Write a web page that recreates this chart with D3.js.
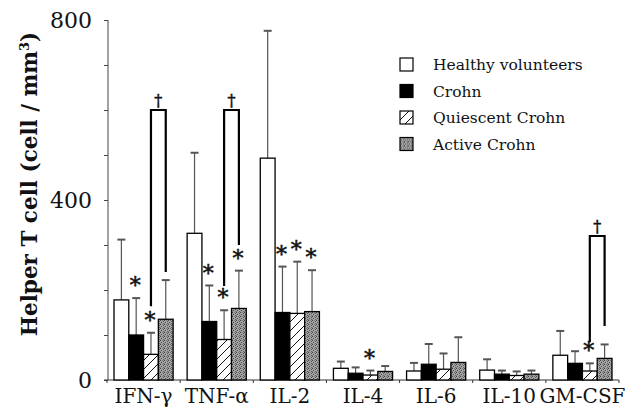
<!doctype html>
<html>
  <head>
    <meta charset="utf-8">
    <title>Helper T cell</title>
    <script src="https://cdnjs.cloudflare.com/ajax/libs/d3/7.8.5/d3.min.js"></script>
    <style>
      body { margin: 0; background: #fff; }
      text { font-family: "DejaVu Serif", serif; fill: #111; }
      .marks text { stroke: #111; stroke-width: 0.5px; }
    </style>
  </head>
  <body>
    <div id="chart"></div>
    <script>
      // data
      const categories = ["IFN-γ", "TNF-α", "IL-2", "IL-4", "IL-6", "IL-10", "GM-CSF"];
      const groups = ["Healthy volunteers", "Crohn", "Quiescent Crohn", "Active Crohn"];

      const healthy   = [178, 326, 493, 26, 20, 22, 55];
      const healthySD = [134, 179, 283, 15, 18, 24, 54];
      const crohn     = [100, 130, 150, 15, 35, 13, 37];
      const crohnSD   = [82, 80, 102, 13, 45, 8, 27];
      const quiescent   = [57, 90, 148, 11, 24, 10, 20];
      const quiescentSD = [48, 65, 115, 10, 35, 9, 17];
      const active   = [135, 159, 152, 19, 39, 13, 48];
      const activeSD = [87, 84, 92, 12, 56, 8, 31];

      const yTicks = [0, 100, 200, 300, 400, 500, 600, 700, 800];
      const yLabels = [0, 400, 800];

      // * = significant vs healthy volunteers
      const stars = [
        ["IFN-γ", "Crohn"], ["IFN-γ", "Quiescent Crohn"],
        ["TNF-α", "Crohn"], ["TNF-α", "Quiescent Crohn"], ["TNF-α", "Active Crohn"],
        ["IL-2", "Crohn"], ["IL-2", "Quiescent Crohn"], ["IL-2", "Active Crohn"],
        ["IL-4", "Quiescent Crohn"],
        ["GM-CSF", "Quiescent Crohn"]
      ];
      // † = quiescent vs active
      const bracketCats = ["IFN-γ", "TNF-α", "GM-CSF"];
      const bracketTop = [600, 600, 320];
      const bracketLeftEnd = [164, 209, 84];
      const bracketRightEnd = [240, 300, 120];

      const means = [healthy, crohn, quiescent, active];
      const sds = [healthySD, crohnSD, quiescentSD, activeSD];

      const rows = [];
      categories.forEach((c, i) => {
        groups.forEach((g, j) => {
          rows.push({cat: c, grp: g, v: means[j][i], sd: sds[j][i]});
        });
      });

      const width = 636, height = 410;
      const svg = d3.select('#chart').append('svg')
        .attr('width', width).attr('height', height);

      const defs = svg.append('defs');
      // hatched fill
      const hatch = defs.append('pattern').attr('id', 'hatch')
        .attr('patternUnits', 'userSpaceOnUse').attr('width', 9).attr('height', 9);
      hatch.append('rect').attr('width', 9).attr('height', 9).attr('fill', '#fff');
      hatch.append('path').attr('d', 'M-1,10 L10,-1 M-2,2 L2,-2 M7,11 L11,7')
        .attr('stroke', '#111').attr('stroke-width', 1);
      // stippled grey fill
      const dots = defs.append('pattern').attr('id', 'dots')
        .attr('patternUnits', 'userSpaceOnUse').attr('width', 4).attr('height', 4);
      dots.append('rect').attr('width', 4).attr('height', 4).attr('fill', '#a4a4a4');
      [[0, 0, '#444'], [2, 0, '#777'], [3, 1, '#555'], [1, 2, '#4a4a4a'], [3, 3, '#666'], [0, 3, '#888']]
        .forEach(p => dots.append('rect').attr('x', p[0]).attr('y', p[1])
          .attr('width', 1).attr('height', 1).attr('fill', p[2]));

      const fills = d3.scaleOrdinal().domain(groups)
        .range(['#fff', '#000', 'url(#hatch)', 'url(#dots)']);

      const x = d3.scaleBand().domain(categories).range([107, 619]);
      const xi = d3.scaleBand().domain(groups).range([7, x.bandwidth() - 7]);
      const y = d3.scaleLinear().domain([0, 800]).range([380, 20]);

      const barX = (c, g) => x(c) + xi(g);
      const barMid = (c, g) => x(c) + xi(g) + xi.bandwidth() / 2;

      // y axis
      const yAxis = svg.append('g').attr('transform', 'translate(108,0)')
        .call(d3.axisLeft(y).tickValues(yTicks).tickSize(4).tickPadding(12)
          .tickFormat(d => yLabels.includes(d) ? d : ''));
      yAxis.select('.domain').attr('stroke', '#444').attr('d', 'M0,20V380');
      yAxis.selectAll('.tick line').attr('stroke', '#444');
      yAxis.selectAll('.tick text')
        .style('font-family', '"DejaVu Serif", serif').style('font-size', '22px')
        .attr('fill', '#111');

      // x axis: ticks at category boundaries
      const xAxis = svg.append('g').attr('transform', 'translate(0,380)');
      xAxis.append('line').attr('x1', 104).attr('x2', 619).attr('stroke', '#333');
      xAxis.selectAll('.bt').data(categories.concat(['end'])).join('line')
        .attr('x1', (d, i) => i < categories.length ? x(d) : x.range()[1])
        .attr('x2', (d, i) => i < categories.length ? x(d) : x.range()[1])
        .attr('y1', 0).attr('y2', 3).attr('stroke', '#333');
      xAxis.selectAll('text').data(categories).join('text')
        .attr('x', d => x(d) + x.bandwidth() / 2)
        .attr('y', 23)
        .attr('text-anchor', 'middle')
        .style('font-size', '20px')
        .text(d => d);

      // error bars (upper only)
      const err = svg.append('g').attr('stroke', '#555');
      err.selectAll('.ev').data(rows).join('line')
        .attr('x1', d => barMid(d.cat, d.grp)).attr('x2', d => barMid(d.cat, d.grp))
        .attr('y1', d => y(d.v)).attr('y2', d => y(d.v + d.sd))
        .attr('stroke-width', 1.2);
      err.selectAll('.ec').data(rows).join('path')
        .attr('d', d => `M${barMid(d.cat, d.grp) - 4},${y(d.v + d.sd)}h8`)
        .attr('stroke-width', 2);

      // bars
      svg.append('g').selectAll('rect').data(rows).join('rect')
        .attr('x', d => barX(d.cat, d.grp))
        .attr('y', d => y(d.v))
        .attr('width', xi.bandwidth())
        .attr('height', d => y(0) - y(d.v))
        .attr('fill', d => fills(d.grp))
        .attr('stroke', '#000')
        .attr('stroke-width', 1.3);

      // stars
      const rowOf = (c, g) => rows.find(r => r.cat === c && r.grp === g);
      svg.append('g').attr('class', 'marks').selectAll('text').data(stars).join('text')
        .attr('x', d => barMid(d[0], d[1]) - 1)
        .attr('y', d => { const r = rowOf(d[0], d[1]); return y(r.v + r.sd) - 5; })
        .attr('text-anchor', 'middle')
        .style('font-size', '22px')
        .text('*');

      // brackets with daggers
      const br = svg.append('g').attr('class', 'marks');
      bracketCats.forEach((c, i) => {
        const xl = barMid(c, 'Quiescent Crohn'), xr = barMid(c, 'Active Crohn');
        const yt = y(bracketTop[i]);
        br.append('path')
          .attr('d', `M${xl},${y(bracketLeftEnd[i])}V${yt}H${xr}V${y(bracketRightEnd[i])}`)
          .attr('fill', 'none').attr('stroke', '#000').attr('stroke-width', 2.2);
        br.append('text')
          .attr('x', (xl + xr) / 2).attr('y', yt - 4)
          .attr('text-anchor', 'middle')
          .style('font-size', '16px')
          .text('†');
      });

      // y title
      svg.append('text')
        .attr('transform', 'translate(37,184) rotate(-90)')
        .attr('text-anchor', 'middle')
        .style('font-size', '21.5px').style('font-weight', 'bold')
        .html('Helper T cell (cell / mm<tspan dy="-8" font-size="13px">3</tspan><tspan dy="8">)</tspan>');

      // legend
      const legend = svg.append('g').attr('transform', 'translate(400,58)');
      const li = legend.selectAll('g').data(groups).join('g')
        .attr('transform', (d, i) => `translate(0,${i * 26.5})`);
      li.append('rect').attr('width', 13).attr('height', 13)
        .attr('fill', d => fills(d)).attr('stroke', '#000').attr('stroke-width', 1.2);
      li.append('text').attr('x', 33).attr('y', 12)
        .style('font-size', '15.5px')
        .text(d => d);
    </script>
  </body>
</html>
